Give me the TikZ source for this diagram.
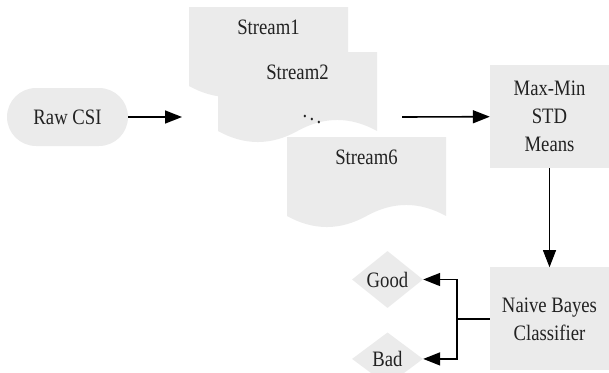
\documentclass[tikz,border=0pt]{standalone}
\usepackage{fontspec}
\setmainfont[FakeStretch=0.85]{Liberation Serif}
\usepackage{tikz}
\usetikzlibrary{positioning,arrows.meta,shapes.geometric}
\definecolor{boxgray}{RGB}{235,235,235}
\definecolor{inkgray}{RGB}{34,34,34}

\begin{document}
\begin{tikzpicture}[x=1pt,y=-1pt,
		every node/.append style={font=\fontsize{22}{28}\selectfont, text=inkgray, inner sep=0pt}
		,box/.style={rectangle, fill=boxgray, minimum width=119pt, minimum height=103pt, align=center}
		,pill/.style={rectangle, rounded corners=29pt, fill=boxgray, minimum width=121pt, minimum height=58pt}
		,leaf/.style={diamond, fill=boxgray, minimum width=71pt, minimum height=53pt}
		,arr/.style={-{Triangle[length=17pt,width=13pt]}, line width=1.6pt}
		,thinarr/.style={arr, line width=0.9pt}
		,streamdoc/.pic={
			\fill[boxgray] (0,0) -- (159,0) -- (159,79)
				.. controls (132.5,64.3) and (106,64.3) .. (79.5,79)
				.. controls (53,93.7) and (26.5,93.7) .. (0,79) -- cycle;
			\node (-label) at (79.5,20) {#1};
		}
	]
		\clip (0,0) rectangle (609,372);
		\node [pill] (raw) at (67.5,117) {Raw CSI};
		\pic (s1) at (189,7) {streamdoc=Stream1};
		\pic (s2) at (218,52) {streamdoc=Stream2};
		\pic (s6) at (287,137) {streamdoc=Stream6};
		\node (dots) at (312,116) {$\ddots$};
		\coordinate (docin) at (182,117);
		\coordinate (docout) at (402,117);
		\node [box] (feat) at (549.5,116.5) {Max-Min\\STD\\Means};
		\node [box, below=99pt of feat] (nb) {Naive Bayes\\Classifier};
		\node [leaf] (good) at (387.5,279.5) {Good};
		\node [leaf, below=24pt of good] (bad) {Bad};

		\draw [arr] (raw) -- (docin);
		\draw [arr] (docout) -- (feat);
		\draw [thinarr] (feat) -- (nb);
		\draw [arr] (nb.west) -- ++(-33,0) |- (good.east);
		\draw [arr] (nb.west) -- ++(-33,0) |- (bad.east);
	\end{tikzpicture}
\end{document}
